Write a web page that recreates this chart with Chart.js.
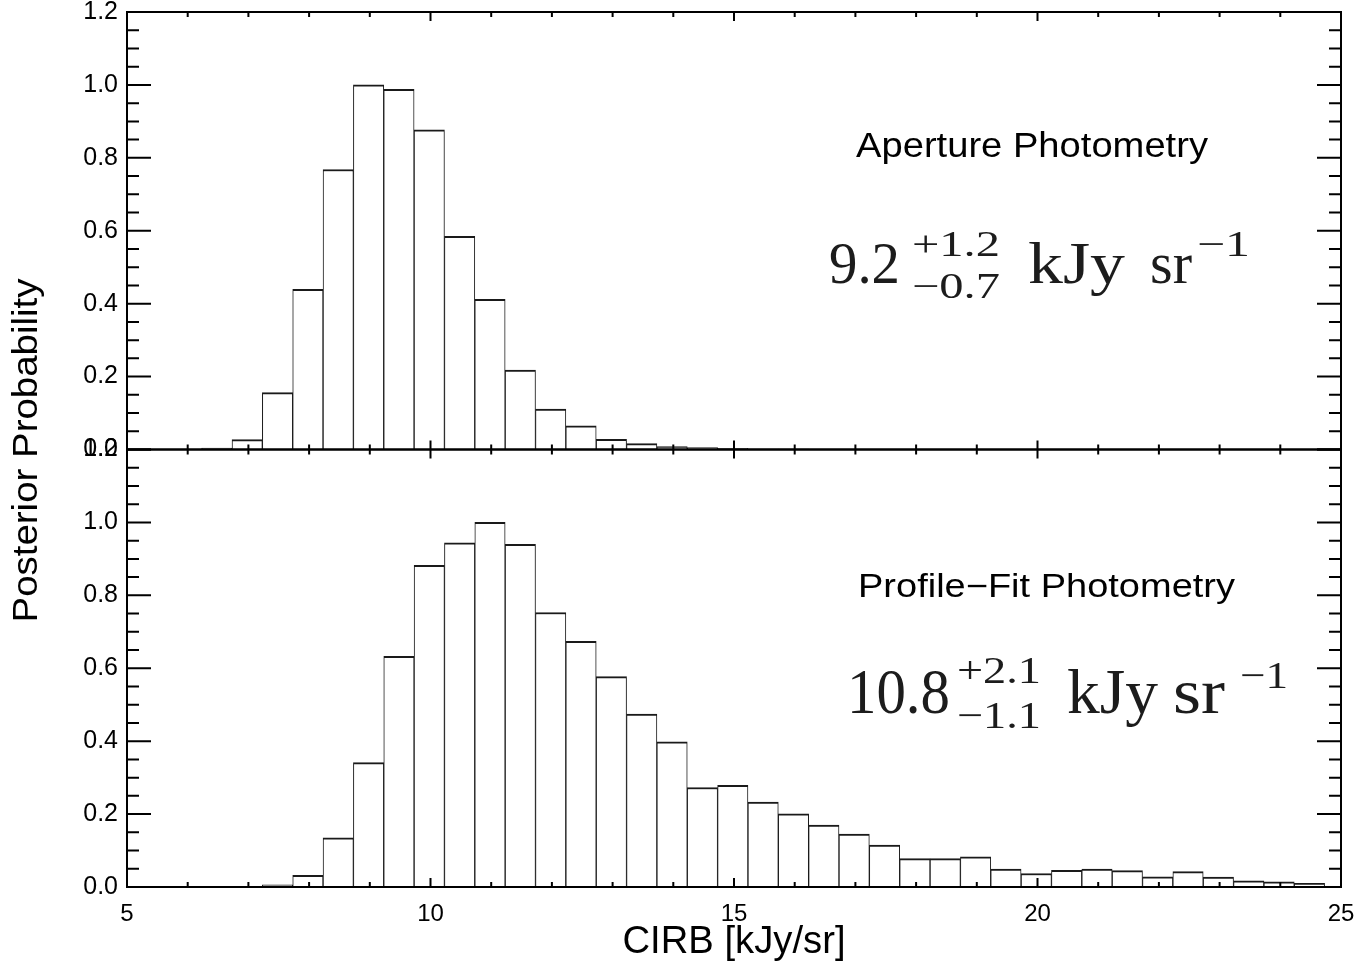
<!DOCTYPE html>
<html>
<head>
<meta charset="utf-8">
<title>CIRB posterior</title>
<script src="https://cdn.jsdelivr.net/npm/chart.js@4.4.1/dist/chart.umd.min.js"></script>
<style>
  html, body { margin: 0; padding: 0; background: #fff; }
  canvas { display: block; }
</style>
</head>
<body>
<canvas id="chart" width="1359" height="963"></canvas>
<script>
// bin centres of the 0.5 kJy/sr histogram bins
const binCenters = [6.48, 6.98, 7.48, 7.98, 8.48, 8.98, 9.48, 9.98, 10.48, 10.98,
  11.48, 11.98, 12.48, 12.98, 13.48, 13.98, 14.48, 14.98, 15.48, 15.98,
  16.48, 16.98, 17.48, 17.98, 18.48, 18.98, 19.48, 19.98, 20.48, 20.98,
  21.48, 21.98, 22.48, 22.98, 23.48, 23.98, 24.48];

// aperture photometry (top panel)
const apertureProb = [0.004, 0.027, 0.156, 0.439, 0.768, 1.0, 0.988, 0.877, 0.585, 0.412,
  0.218, 0.111, 0.065, 0.028, 0.016, 0.008, 0.005, 0.003, 0.001, 0.001,
  null, null, null, null, null, null, null, null, null, null,
  null, null, null, null, null, null, null];

// profile-fit photometry (bottom panel)
const profileProb = [null, null, 0.006, 0.032, 0.135, 0.341, 0.633, 0.882, 0.944, 1.0,
  0.940, 0.753, 0.674, 0.577, 0.474, 0.398, 0.273, 0.279, 0.233, 0.201,
  0.170, 0.145, 0.115, 0.078, 0.078, 0.083, 0.049, 0.037, 0.046, 0.049,
  0.045, 0.028, 0.042, 0.027, 0.017, 0.014, 0.010];

const xTickLabels = [5, 10, 15, 20, 25];
const yTickLabels = ['0.0', '0.2', '0.4', '0.6', '0.8', '1.0', '1.2'];

const SANS = '"Liberation Sans", Arial, Helvetica, sans-serif';
const SERIF = '"Liberation Serif", "Times New Roman", serif';

// draw text squeezed/stretched to a given width
function fitText(ctx, text, x, y, size, family, width, align) {
  ctx.save();
  ctx.font = size + 'px ' + family;
  const w = ctx.measureText(text).width;
  ctx.translate(x, y);
  ctx.scale(width / w, 1);
  ctx.textAlign = align || 'left';
  ctx.textBaseline = 'alphabetic';
  ctx.fillText(text, 0, 0);
  ctx.restore();
}

const framePlugin = {
  id: 'frame',
  afterDatasetsDraw(chart) {
    const ctx = chart.ctx;
    const x = chart.scales.x;
    const panels = [chart.scales.yTop, chart.scales.yBot];
    ctx.save();
    ctx.strokeStyle = '#000';
    ctx.lineWidth = 2;
    panels.forEach(ys => {
      ctx.strokeRect(x.left, ys.top, x.right - x.left, ys.bottom - ys.top);
      ctx.beginPath();
      // y ticks, every 0.05, major every 0.2
      for (let i = 0; i <= 24; i++) {
        const py = ys.getPixelForValue(i * 0.05);
        const len = i % 4 === 0 ? 24 : 12;
        ctx.moveTo(x.left, py); ctx.lineTo(x.left + len, py);
        ctx.moveTo(x.right, py); ctx.lineTo(x.right - len, py);
      }
      // x ticks, every 1, major every 5
      for (let v = 5; v <= 25; v++) {
        const px = x.getPixelForValue(v);
        const len = v % 5 === 0 ? 9 : 5;
        ctx.moveTo(px, ys.top); ctx.lineTo(px, ys.top + len);
        ctx.moveTo(px, ys.bottom); ctx.lineTo(px, ys.bottom - len);
      }
      ctx.stroke();
    });
    ctx.restore();
  },
  afterDraw(chart) {
    const ctx = chart.ctx;
    const area = chart.chartArea;
    ctx.save();
    ctx.fillStyle = '#000';
    // axis titles
    ctx.save();
    ctx.translate(37, (area.top + area.bottom) / 2 + 1);
    ctx.rotate(-Math.PI / 2);
    fitText(ctx, 'Posterior Probability', 0, 0, 35, SANS, 344, 'center');
    ctx.restore();
    fitText(ctx, 'CIRB [kJy/sr]', (area.left + area.right) / 2, 953, 38, SANS, 223, 'center');

    // panel labels
    fitText(ctx, 'Aperture Photometry', 856, 157, 35, SANS, 352);
    fitText(ctx, 'Profile\u2212Fit Photometry', 858, 597, 33, SANS, 377);

    // results
    ctx.fillStyle = '#1c1c1c';
    fitText(ctx, '9.2', 829, 283, 60, SERIF, 71);
    fitText(ctx, '+1.2', 912, 256, 36, SERIF, 88);
    fitText(ctx, '\u22120.7', 912, 298, 36, SERIF, 88);
    fitText(ctx, 'kJy', 1028, 283, 60, SERIF, 97);
    fitText(ctx, 'sr', 1150, 283, 60, SERIF, 42);
    fitText(ctx, '\u22121', 1197, 256, 36, SERIF, 53);

    fitText(ctx, '10.8', 847, 713, 64, SERIF, 103);
    fitText(ctx, '+2.1', 957, 683, 38, SERIF, 84);
    fitText(ctx, '\u22121.1', 957, 728, 38, SERIF, 84);
    fitText(ctx, 'kJy', 1067, 713, 64, SERIF, 91);
    fitText(ctx, 'sr', 1173, 713, 64, SERIF, 52);
    fitText(ctx, '\u22121', 1240, 688, 38, SERIF, 48);
    ctx.restore();
  }
};

const barStyle = {
  backgroundColor: '#ffffff',
  borderColor: '#1a1a1a',
  borderWidth: { top: 2, left: 1, right: 1, bottom: 0 },
  borderSkipped: 'start',
  barPercentage: 1.0,
  categoryPercentage: 1.0,
  grouped: false
};

const yAxis = {
  type: 'linear',
  position: 'left',
  stack: 'panels',
  stackWeight: 1,
  min: 0,
  max: 1.2,
  grid: { display: false, drawTicks: false },
  border: { display: false },
  ticks: {
    stepSize: 0.2,
    padding: 9,
    color: '#000',
    font: { family: SANS, size: 25 },
    callback: (v) => yTickLabels[Math.round(v / 0.2)]
  },
  afterFit: (s) => {
    s.width = 127;
    s.paddingTop = 0;
    s.paddingBottom = 0;
  }
};

new Chart(document.getElementById('chart'), {
  type: 'bar',
  data: {
    datasets: [
      Object.assign({
        label: 'Aperture Photometry',
        yAxisID: 'yTop',
        data: binCenters.map((c, i) => ({ x: c, y: apertureProb[i] }))
      }, barStyle),
      Object.assign({
        label: 'Profile-Fit Photometry',
        yAxisID: 'yBot',
        data: binCenters.map((c, i) => ({ x: c, y: profileProb[i] }))
      }, barStyle)
    ]
  },
  options: {
    responsive: false,
    animation: false,
    layout: { padding: { top: 12, right: 18, left: 0, bottom: 0 } },
    plugins: { legend: { display: false }, tooltip: { enabled: false } },
    scales: {
      x: {
        type: 'linear',
        position: 'bottom',
        offset: false,
        min: 5,
        max: 25,
        grid: { display: false, drawTicks: false, offset: false },
        border: { display: false },
        ticks: {
          stepSize: 5,
          padding: 13,
          color: '#000',
          font: { family: SANS, size: 24 },
          callback: (v) => xTickLabels.includes(v) ? String(v) : ''
        },
        afterFit: (s) => {
          s.height = 76;
          s.paddingLeft = 0;
          s.paddingRight = 0;
        }
      },
      yBot: Object.assign({}, yAxis),
      yTop: Object.assign({}, yAxis)
    }
  },
  plugins: [framePlugin]
});
</script>
</body>
</html>
